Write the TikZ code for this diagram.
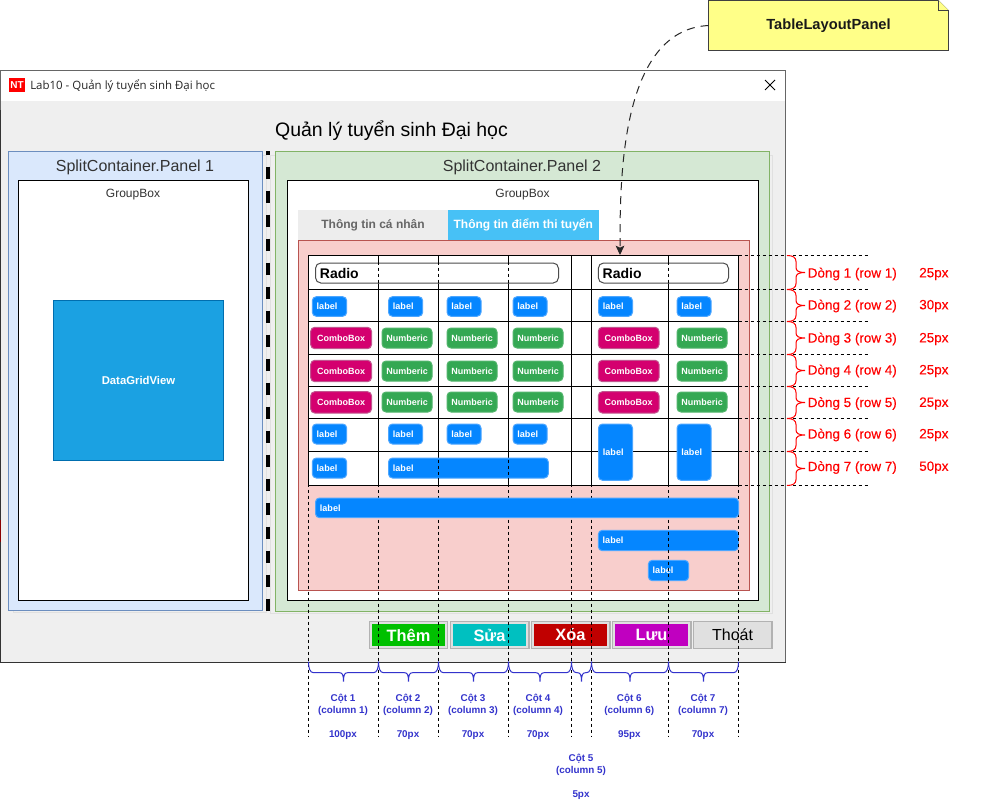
\documentclass[tikz,border=0pt]{standalone}
\usepackage{fontspec}
\setmainfont{Liberation Sans}
\newfontfamily\uifont{Open Sans}
\newfontfamily\rowfont[FakeBold=0.25]{Liberation Sans}
\usetikzlibrary{arrows.meta}
\definecolor{winbg}{HTML}{EFEFEF}
\definecolor{lblblue}{HTML}{0586FF}
\definecolor{lbledge}{HTML}{4CA6FF}
\definecolor{numgreen}{HTML}{34A853}
\definecolor{numedge}{HTML}{52B56C}
\definecolor{cbpink}{HTML}{D4006F}
\definecolor{cbedge}{HTML}{C2558F}
\definecolor{colblue}{HTML}{3333CC}
\newcommand{\fpx}[1]{\fontsize{#1}{#1}\selectfont}
\tikzset{
  x=0.75pt,y=-0.75pt,
  line width=0.75pt,
  ctl/.style={inner sep=0pt,outer sep=0pt,rounded corners=3pt,line width=0.75pt},
  lblbox/.style={ctl,draw=lbledge,fill=lblblue,text=white,align=left,font=\bfseries\fpx{6.8}},
  cbbox/.style={ctl,draw=cbedge,fill=cbpink,text=white,align=center,font=\bfseries\fpx{6.75}},
  numbox/.style={ctl,draw=numedge,fill=numgreen,text=white,align=center,font=\bfseries\fpx{6.75}},
  radiobox/.style={ctl,rounded corners=4pt,draw=black!70,fill=white,text=black,align=left,font=\bfseries\fpx{10.5}},
  plainbox/.style={inner sep=0pt,outer sep=0pt},
  btnouter/.style={plainbox,draw=black!30,fill=black!12,line width=0.9pt},
  btninner/.style={plainbox,text=white,font=\bfseries\fpx{12.3}},
  gridln/.style={black,line width=0.75pt},
  dashln/.style={black,line width=0.75pt,dash pattern=on 2.25pt off 2.25pt},
  rowbr/.style={red,line width=0.75pt},
  colbr/.style={colblue,line width=0.75pt},
  rowtxt/.style={inner sep=0pt,text=red,font=\rowfont\fpx{10.1}},
  coltxt/.style={inner sep=0pt,text=colblue,font=\bfseries\fpx{7.4}},
  paneltxt/.style={inner sep=0pt,text=black!80,font=\fpx{12}},
  gbtxt/.style={inner sep=0pt,text=black!80,font=\fpx{9}},
}
% \ctlbox{style}{name}{x1}{y1}{x2}{y2}{text}: a control with its text inset from the left edge when left-aligned
\newcommand{\ctlbox}[7]{%
  \node[#1,minimum width={(#5-#3)*0.75pt},minimum height={(#6-#4)*0.75pt},text width={(#5-#3-8.8)*0.75pt}]
    (#2) at ({(#3+#5)/2},{(#4+#6)/2}) {#7};}
% curly braces as in the reference: start, stem, tip, stem, end
\newcommand{\rowbrace}[2]{%
  \pgfmathsetmacro{\ym}{(#1+#2)/2}%
  \draw[rowbr] (787,#1) .. controls (793,#1) and (796,#1+2) .. (796,#1+6) -- (796,\ym-5)
    .. controls (796,\ym-1.5) and (799,\ym) .. (805,\ym)
    .. controls (799,\ym) and (796,\ym+1.5) .. (796,\ym+5) -- (796,#2-6)
    .. controls (796,#2-2) and (793,#2) .. (787,#2);}
\newcommand{\colbrace}[2]{%
  \pgfmathsetmacro{\xm}{(#1+#2)/2}%
  \draw[colbr] (#1,661.7) .. controls (#1,668) and (#1+1.5,672.7) .. (#1+5,672.7) -- (\xm-4,672.7)
    .. controls (\xm-1,672.7) and (\xm,675) .. (\xm,681.7)
    .. controls (\xm,675) and (\xm+1,672.7) .. (\xm+4,672.7) -- (#2-5,672.7)
    .. controls (#2-1.5,672.7) and (#2,668) .. (#2,661.7);}
\begin{document}
\begin{tikzpicture}
\useasboundingbox (0,0) rectangle (990,811);
\fill[white] (0,0) rectangle (990,811);

% window
\draw[black!60,fill=winbg] (0.5,70.5) rectangle (785.5,662);
\fill[white] (1,71) rectangle (785,101);
\draw[black!80] (0.5,662) -- (785.5,662);
\draw[black!80] (0.5,110) -- (0.5,662);
\draw[red!55!black,line width=0.9pt] (0.5,520) -- (0.5,542);
\fill[red] (9,78.3) rectangle (25,92.3);
\node[inner sep=0pt,text=white,font=\bfseries\fpx{7.5}] (icon) at (17,85.5) {NT};
\node[inner sep=0pt,anchor=west,text=black!85,font=\uifont\fpx{8.6}] (wintitle) at (30,86) {Lab10 - Quản lý tuyển sinh Đại học};
\draw[black,line width=0.7pt] (765,80) -- (775,90) (775,80) -- (765,90);
\node[inner sep=0pt,text=black,font=\fpx{14.6}] (apptitle) at (391.5,130.5) {Quản lý tuyển sinh Đại học};

% split container
\draw[black!12,fill=winbg] (13,155) rectangle (266,612.5);
\draw[black!12,fill=winbg] (270.5,155) rectangle (772.5,613);
\draw[draw={rgb,255:red,108;green,142;blue,191},fill={rgb,255:red,218;green,232;blue,252}] (8.5,151) rectangle (262.5,610.5);
\draw[draw={rgb,255:red,130;green,179;blue,102},fill={rgb,255:red,213;green,232;blue,212}] (275.5,151) rectangle (769,611);
\draw[black,line width=3pt,dash pattern=on 9pt off 9pt] (268,166.7) -- (268,611);
\draw[black,line width=3pt] (268,151) -- (268,155);
\node[paneltxt] (p1title) at (135,167.5) {SplitContainer.Panel 1};
\node[paneltxt] (p2title) at (522,167) {SplitContainer.Panel 2};

% group boxes
\draw[black,fill=white] (18.5,180.5) rectangle (248.5,600.5);
\draw[black,fill=white] (287.5,180.5) rectangle (758.5,600.5);
\node[gbtxt] (gb1) at (133,195) {GroupBox};
\node[gbtxt] (gb2) at (522.5,195) {GroupBox};
\node[plainbox,draw={rgb,255:red,0;green,110;blue,175},fill={rgb,255:red,27;green,161;blue,226},
  minimum width=127.5pt,minimum height=120pt,text=white,font=\bfseries\fpx{8.5}] (dgv) at (138.5,380.3) {DataGridView};

% tabs and red panel
\node[plainbox,fill=black!7,minimum width=112.5pt,minimum height=22.5pt,text=black!60,font=\bfseries\fpx{9}] (tab1) at (373,225) {Thông tin cá nhân};
\node[plainbox,fill={rgb,255:red,71;green,193;blue,246},minimum width=112.9pt,minimum height=22.5pt,text=white,font=\bfseries\fpx{9}] (tab2) at (523.3,225) {Thông tin điểm thi tuyển};
\draw[draw={rgb,255:red,184;green,84;blue,80},fill={rgb,255:red,248;green,206;blue,204}] (298.5,240.5) rectangle (749,590.5);

% table
\node[plainbox,draw=black,fill=white,line width=0.75pt,minimum width=322.5pt,minimum height=172.5pt] (tbl) at (523.5,370.5) {};
\foreach \ya in {289.5,321.5,354.5,386.5,418.5,451.5}
  \draw[gridln] (308.5,\ya) -- (738.5,\ya);
\foreach \xa in {378.5,438.5,508.5,571.5,591.5,668.5}
  \draw[gridln] (\xa,255.5) -- (\xa,485.5);

% radios
\ctlbox{radiobox}{radio1}{315.5}{263}{558.5}{283}{Radio}
\ctlbox{radiobox}{radio2}{598.3}{263}{728.5}{283}{Radio}

% row 2
\ctlbox{lblbox}{l21}{312.3}{296.7}{346.7}{316.3}{label}
\ctlbox{lblbox}{l22}{388.5}{296.7}{422.7}{316.3}{label}
\ctlbox{lblbox}{l23}{447}{296.7}{481}{316.3}{label}
\ctlbox{lblbox}{l24}{513}{296.7}{547}{316.3}{label}
\ctlbox{lblbox}{l26}{598.5}{296.7}{632.5}{316.3}{label}
\ctlbox{lblbox}{l27}{677}{296.7}{711}{316.3}{label}
% rows 3-5
\foreach \r/\ca/\cb/\na/\nb in {3/327.3/348.7/328/348,4/360.3/381.7/361/381,5/391.7/413/392/412}{
  \ctlbox{cbbox}{c\r1}{310.7}{\ca}{371.5}{\cb}{ComboBox}
  \ctlbox{numbox}{n\r2}{382}{\na}{432}{\nb}{Numberic}
  \ctlbox{numbox}{n\r3}{447}{\na}{497}{\nb}{Numberic}
  \ctlbox{numbox}{n\r4}{513}{\na}{563}{\nb}{Numberic}
  \ctlbox{cbbox}{c\r6}{598.3}{\ca}{659}{\cb}{ComboBox}
  \ctlbox{numbox}{n\r7}{677}{\na}{727}{\nb}{Numberic}
}
% rows 6-7
\ctlbox{lblbox}{l61}{312.3}{424}{346.7}{444}{label}
\ctlbox{lblbox}{l62}{388.5}{424}{422.7}{444}{label}
\ctlbox{lblbox}{l63}{447}{424}{481}{444}{label}
\ctlbox{lblbox}{l64}{513}{424}{547}{444}{label}
\ctlbox{lblbox}{l71}{312.3}{458}{346.7}{478}{label}
\ctlbox{lblbox}{l72}{388.5}{458}{548.3}{478}{label}
\ctlbox{lblbox}{l66}{598.5}{424}{632.5}{480.3}{label}
\ctlbox{lblbox}{l67}{677}{424}{711}{480.3}{label}
% lower labels
\ctlbox{lblbox}{l82}{598.3}{530.3}{738.3}{550.7}{label}
\ctlbox{lblbox}{l83}{648.3}{560.3}{688.7}{580.7}{label}

% buttons
\node[btnouter,minimum width=58.8pt,minimum height=20.3pt] (b1o) at (408.5,634.8) {};
\node[btnouter,minimum width=59pt,minimum height=20.3pt] (b2o) at (489.6,634.8) {};
\node[btnouter,minimum width=59pt,minimum height=20.3pt] (b3o) at (570.6,634.8) {};
\node[btnouter,minimum width=59pt,minimum height=20.3pt] (b4o) at (651.6,634.8) {};
\node[btnouter,minimum width=59pt,minimum height=20.3pt,font=\fpx{12},text=black] (b5o) at (732.6,634.8) {Thoát};
\node[btninner,fill={rgb,255:red,0;green,192;blue,0},minimum width=54.75pt,minimum height=16.5pt] (b1) at (408.5,635) {Thêm};
\node[btninner,fill={rgb,255:red,0;green,192;blue,192},minimum width=54.75pt,minimum height=16.5pt] (b2) at (489.5,635) {Sửa};
\node[btninner,fill={rgb,255:red,192;green,0;blue,0},minimum width=54.75pt,minimum height=16.5pt] (b3) at (570.5,635) {Xóa};
\node[btninner,fill={rgb,255:red,192;green,0;blue,192},minimum width=54.75pt,minimum height=16.5pt] (b4) at (651.5,635) {Lưu};

% dashed guides
\foreach \xa in {308.5,378.5,438.5,508.5,571.5,591.5,668.5,738.5}
  \draw[dashln] (\xa,255.5) -- (\xa,736);
\foreach \ya in {255.5,289.5,321.5,354.5,386.5,418.5,451.5,485.5}
  \draw[dashln] (738.5,\ya) -- (870,\ya);

% full-width label sits over the guides
\ctlbox{lblbox}{l81}{315.5}{498}{738.5}{517.7}{label}

% row braces and texts
\rowbrace{255.5}{289.5}
\rowbrace{289.5}{321.5}
\rowbrace{321.5}{354.5}
\rowbrace{354.5}{386.5}
\rowbrace{386.5}{418.5}
\rowbrace{418.5}{451.5}
\rowbrace{451.5}{485.5}
\foreach \n/\yy/\val in {1/274/25px,2/306/30px,3/339/25px,4/371/25px,5/403.5/25px,6/435/25px,7/467.5/50px}{
  \node[rowtxt,anchor=west] (rowl\n) at (807.5,\yy) {Dòng \n\ (row \n)};
  \node[rowtxt,anchor=west] (rowv\n) at (919,\yy) {\val};
}

% column braces and texts
\colbrace{308.5}{378.5}
\colbrace{378.5}{438.5}
\colbrace{438.5}{508.5}
\colbrace{508.5}{571.5}
\colbrace{571.5}{591.5}
\colbrace{591.5}{668.5}
\colbrace{668.5}{738.5}
\foreach \n/\xx/\val in {1/343/100px,2/408/70px,3/473/70px,4/538/70px,6/629.3/95px,7/703/70px}{
  \node[coltxt] (colh\n) at (\xx,698.5) {Cột \n};
  \node[coltxt] (colc\n) at (\xx,710.7) {(column \n)};
  \node[coltxt] (colv\n) at (\xx,734.7) {\val};
}
\node[coltxt] (colh5) at (581,758.5) {Cột 5};
\node[coltxt] (colc5) at (581,771) {(column 5)};
\node[coltxt] (colv5) at (581,795) {5px};

% note and its arrow
\draw[draw=black!75,fill={rgb,255:red,255;green,255;blue,136}]
  (708.5,0.5) -- (938.5,0.5) -- (948.5,10.5) -- (948.5,50.5) -- (708.5,50.5) -- cycle;
\draw[draw=black!75,fill={rgb,255:red,255;green,255;blue,136}] (938.5,0.5) -- (938.5,10.5) -- (948.5,10.5);
\node[plainbox,minimum width=180pt,minimum height=37.5pt,font=\bfseries\fpx{11},text=black!90] (note) at (828.5,25.5) {TableLayoutPanel};
\coordinate (tgt) at (620,255);
\draw[black!85,line width=0.75pt,dash pattern=on 6pt off 4.5pt,-{Stealth[length=7pt,width=6.5pt,inset=1.5pt]}]
  (note.west) .. controls (620,30) and (620,180) .. (tgt);
\end{tikzpicture}
\end{document}
